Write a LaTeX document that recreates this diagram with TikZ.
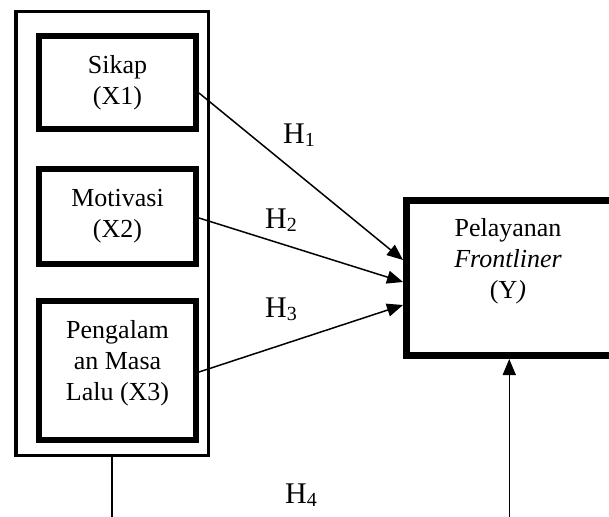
\documentclass[tikz,border=0pt]{standalone}
\usepackage{fontspec}
\setmainfont{Liberation Serif}
\usetikzlibrary{arrows.meta,calc}
\begin{document}
\begin{tikzpicture}[x=1pt,y=-1pt,
  box/.style={draw,line width=6pt,rectangle,inner sep=0pt,align=center,font=\fontsize{26}{31}\selectfont},
  frame/.style={draw,line width=3.5pt,rectangle,inner sep=0pt},
  conn/.style={line width=1.5pt},
  arr/.style={conn,-{Triangle[length=16pt,width=13pt]}},
  hyp/.style={anchor=base west,inner sep=0pt,font=\fontsize{30}{30}\selectfont},
  txt/.style={align=center,inner sep=0pt,font=\fontsize{26}{31}\selectfont}]
\useasboundingbox (0,0) rectangle (609,516);
\clip (0,0) rectangle (609,516);
\node[frame,minimum width=192.5pt,minimum height=443.5pt] (outer) at (112,233.5) {};
\node[box,minimum width=157pt,minimum height=93pt] (x1) at (117.5,82.5) {Sikap\\(X1)};
\node[box,minimum width=157pt,minimum height=95pt] (x2) at (117.5,216.5) {Motivasi\\(X2)};
\node[box,minimum width=157pt,minimum height=139pt] (x3) at (117.5,370.5) {};
\node[txt] (x3t) at (117.5,363) {Pengalam\\an Masa\\Lalu (X3)};
\node[box,line width=7pt,minimum width=205.5pt,minimum height=155pt] (y) at (509.25,278) {};
\node[txt] (yt) at (508,261) {Pelayanan\\\textit{Frontliner}\\(Y\textit{)}};
\draw[arr] ($(x1.east)+(0,10.5)$) -- ($(y.west)+(0,-18)$);
\draw[arr] ($(x2.east)+(0,1.5)$) -- ($(y.west)+(0,4)$);
\draw[arr] ($(x3.east)+(0,1.5)$) -- ($(y.west)+(0,27)$);
\coordinate (b1) at (112,520);
\draw[conn] (outer.south) -- (b1);
\draw[arr] (y.south |- b1) -- (y.south);
\node[hyp] (h1) at (283,143) {H\raisebox{-3pt}{\fontsize{20}{20}\selectfont 1}};
\node[hyp] (h2) at (265,228) {H\raisebox{-3pt}{\fontsize{20}{20}\selectfont 2}};
\node[hyp] (h3) at (265,317) {H\raisebox{-3pt}{\fontsize{20}{20}\selectfont 3}};
\node[hyp] (h4) at (285,503) {H\raisebox{-3pt}{\fontsize{20}{20}\selectfont 4}};
\end{tikzpicture}
\end{document}
